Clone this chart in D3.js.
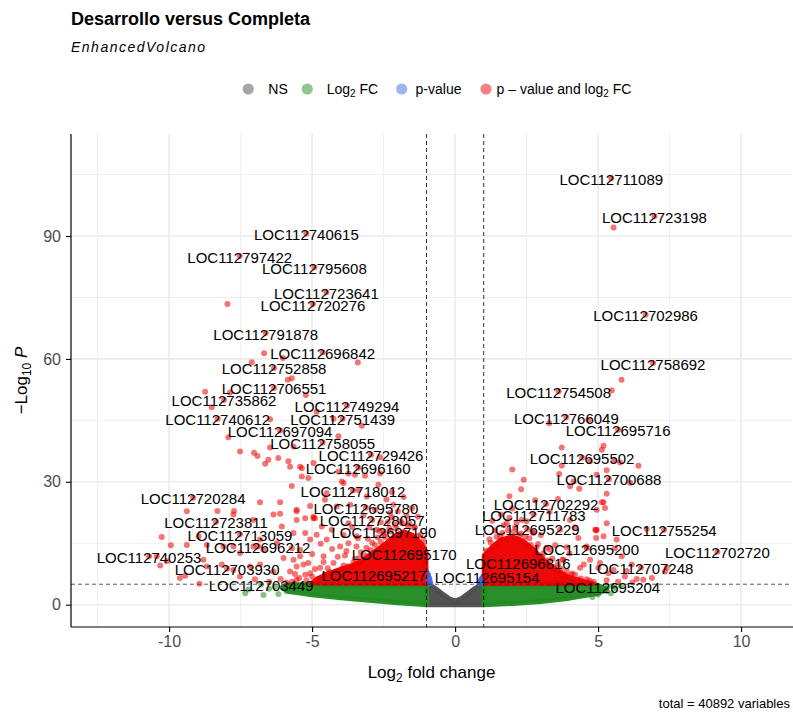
<!DOCTYPE html>
<html>
<head>
<meta charset="utf-8">
<script src="https://cdn.jsdelivr.net/npm/d3@7"></script>
<style>
  html, body { margin: 0; padding: 0; background: #fff; }
  svg { display: block; font-family: "Liberation Sans", Arial, sans-serif; }
</style>
</head>
<body>
<svg id="chart" width="793" height="713"></svg>
<script>
// ---- Volcano plot data: Desarrollo versus Completa ----
const fcCutoff = 1;        // |log2 fold change| threshold
const pCutoff = 5;         // -log10 P threshold

const xMajorTicks = [-10, -5, 0, 5, 10];
const xMinorTicks = [-12.5, -7.5, -2.5, 2.5, 7.5];
const yMajorTicks = [0, 30, 60, 90];
const yMinorTicks = [15, 45, 75, 105];

const legendKeys = ["NS", "Log2 FC", "p-value", "p - value and log2 FC"];

// Labelled genes
const labelGenes = [
  "LOC112711089","LOC112723198","LOC112740615","LOC112797422","LOC112795608","LOC112723641",
  "LOC112720276","LOC112702986","LOC112791878","LOC112696842","LOC112758692","LOC112752858",
  "LOC112706551","LOC112754508","LOC112735862","LOC112749294","LOC112766049","LOC112740612",
  "LOC112751439","LOC112695716","LOC112697094","LOC112758055","LOC112729426","LOC112695502",
  "LOC112696160","LOC112700688","LOC112718012","LOC112720284","LOC112702292","LOC112695780",
  "LOC112711783","LOC112728057","LOC112723811","LOC112695229","LOC112755254","LOC112697190",
  "LOC112713059","LOC112696212","LOC112695200","LOC112702720","LOC112695170","LOC112740253",
  "LOC112696816","LOC112707248","LOC112703930","LOC112695217","LOC112695154","LOC112703449",
  "LOC112695204"
];
const labelLog2FC = [
  5.46, 6.97, -5.20, -7.53, -4.92, -4.50,
  -4.97, 6.66, -6.62, -4.63, 6.92, -6.33,
  -6.33, 3.62, -8.08, -3.78, 3.89, -8.30,
  -3.93, 5.70, -6.12, -4.63, -2.94, 4.44,
  -3.39, 5.38, -3.57, -9.16, 3.18, -3.12,
  2.75, -2.90, -8.36, 2.52, 7.31, -2.49,
  -7.52, -6.89, 4.60, 9.17, -1.78, -10.70,
  2.21, 6.50, -7.97, -2.84, 1.12, -6.78,
  5.34
];
const labelNegLogP = [
  104.1, 94.8, 90.6, 85.1, 82.4, 76.3,
  73.4, 70.8, 66.3, 61.6, 59.0, 57.8,
  52.9, 52.1, 50.0, 48.6, 45.8, 45.4,
  45.4, 42.7, 42.5, 39.6, 36.6, 35.9,
  33.5, 30.7, 27.9, 26.1, 24.6, 23.7,
  22.0, 20.7, 20.2, 18.5, 18.3, 17.9,
  17.2, 14.2, 13.8, 12.95, 12.6, 11.8,
  10.2, 9.1, 8.8, 7.3, 6.9, 5.0,
  4.5
];

// Unlabelled genes away from the dense core
const geneLog2FC = [
  // left, upper part
  -7.96, -6.68, -6.02, -3.40, -7.11, -5.85, -5.71, -8.74, -7.87, -5.22,
  -8.51, -4.84, -6.47, -3.26, -4.25, -7.93, -6.47, -5.65, -4.08, -7.52,
  -7.03, -6.91, -6.18, -6.64, -6.53, -5.83, -5.77, -5.42, -5.36, -5.13,
  -4.95, -4.08, -3.73, -3.15, -2.62, -2.62, -3.90, -5.71, -4.49, -2.21,
  -3.38, -6.82, -6.12, -5.07, -5.54, -9.38, -8.31, -7.73, -6.35, -6.12,
  -4.95, -4.14, -3.67,
  // left, middle part
  -5.36, -5.54, -5.54, -3.96, -3.50, -2.68, -4.55, -3.09, -4.90, -4.66,
  -4.31, -3.73, -4.49, -4.02, -5.07, -5.42, -5.13, -4.60, -5.54, -5.24,
  -4.72, -4.14, -5.65, -5.71, -2.16, -2.27, -2.74, -3.44, -3.73,
  // left, far part
  -10.26, -9.94, -9.38, -8.97, -8.68, -7.75, -7.05, -6.06, -10.43, -10.31,
  -10.08, -9.62, -9.44, -8.94, -8.80, -8.68, -8.16, -7.75, -7.52, -7.17,
  -6.82, -6.35, -6.00, -5.65, -5.42, -5.24, -4.95, -7.75, -7.52, -8.10,
  -7.05, -6.70, -6.23, -6.82, -5.24, -4.84, -5.77, -5.54, -5.07,
  // left, around the core
  -4.8, -4.4, -4.2, -3.9, -3.7, -3.5, -3.3, -3.1, -2.9, -2.7,
  -2.5, -2.3, -2.1, -1.9, -1.6, -1.4, -1.2, -1.1, -2.2, -2.0,
  -1.7, -2.6, -3.0, -3.4, -3.8, -4.1, -4.6, -4.9, -5.3, -5.6,
  -6.1, -6.5, -7.0, -5.9, -3.2, -2.8, -1.5, -1.3, -2.4, -1.8,
  -3.6, -4.3, -5.0, -4.7, -3.9,
  // left, rim of the core
  -1.1, -1.3, -1.45, -1.65, -1.85, -2.05, -2.25, -2.45, -2.6, -2.8,
  -2.95, -3.15, -3.35, -3.55, -3.75, -3.95, -4.15, -4.35, -4.55, -4.75,
  -5.0, -5.2, -5.45, -5.7, -1.25, -1.55, -2.35, -2.65, -3.05, -3.45,
  -3.85, -4.25, -4.45, -1.95, -1.35,
  // right, upper part
  5.54, 5.82, 5.48, 3.29, 4.66, 3.73, 5.19, 5.13, 6.41, 3.73,
  5.30, 5.77, 5.54, 4.72, 3.64, 4.02, 4.34, 6.12, 5.30, 2.31,
  4.14, 4.95, 5.19, 5.24, 4.95, 5.30, 4.93, 4.93,
  // right, middle part
  1.57, 5.13, 4.95, 5.19, 5.65, 4.31, 4.60, 4.72, 4.37, 5.01,
  5.36, 4.20, 3.79, 3.32, 3.79, 2.74, 2.33, 1.81, 1.34, 3.32,
  3.67, 4.02, 4.90, 5.59, 5.83, 6.18, 6.58, 6.88, 6.35, 7.34,
  7.40, 6.70, 5.94, 5.54, 5.07,
  // right, around the core
  1.2, 1.4, 1.7, 1.9, 2.1, 2.3, 2.6, 2.9, 3.1, 3.4,
  3.6, 3.9, 4.1, 4.4, 4.7, 2.0, 1.6, 2.5, 3.0, 3.5,
  4.0, 1.3, 2.8, 1.9, 3.3, 4.5, 5.3, 5.7, 6.0, 6.2,
  3.9, 4.2, 3.6, 2.4, 2.0,
  // right, rim of the core
  1.1, 1.25, 1.45, 1.65, 1.85, 2.05, 2.25, 2.45, 2.65, 2.85,
  3.05, 3.25, 3.45, 3.7, 3.85, 4.05, 4.3, 4.6, 4.85, 1.55,
  2.15, 2.7, 3.2, 3.75,
  // fold change only (below the P threshold)
  -7.34, -6.70, -6.18, -5.89, -6.00, -7.23, -6.50, -5.70, -6.30,
  5.30, 5.60, 5.80, 5.45, 5.00, 4.80, 5.20, 5.55,
  // P only (inside the fold change threshold)
  -0.94, -0.90, -0.96, 0.92, 0.96, 0.88
];
const geneNegLogP = [
  73.4, 61.4, 60.2, 59.1, 59.2, 54.9, 55.3, 52.0, 51.8, 51.2,
  48.2, 47.1, 45.3, 43.7, 45.4, 40.9, 38.4, 38.6, 41.1, 37.4,
  37.1, 36.3, 35.8, 34.4, 35.4, 35.0, 33.7, 33.7, 31.3, 30.9,
  34.6, 32.5, 32.0, 31.5, 32.0, 36.0, 29.7, 29.0, 27.2, 27.5,
  28.0, 25.0, 25.0, 24.1, 22.8, 22.8, 22.9, 22.9, 22.0, 22.2,
  21.5, 24.0, 24.4,
  33.3, 23.2, 20.7, 30.1, 31.7, 29.3, 25.6, 26.4, 21.1, 19.1,
  18.3, 19.9, 15.9, 14.2, 15.9, 11.8, 10.2, 11.8, 9.3, 7.3,
  9.0, 8.1, 17.5, 13.8, 24.4, 22.4, 18.3, 16.7, 15.0,
  16.5, 14.5, 14.6, 16.7, 14.6, 22.0, 20.7, 19.1, 11.8, 9.6,
  10.6, 6.5, 7.1, 5.1, 11.0, 9.3, 9.8, 8.5, 6.9, 9.3,
  9.8, 8.1, 11.4, 11.0, 13.4, 17.5, 21.1, 14.2, 12.6, 14.2,
  14.2, 13.4, 15.0, 15.9, 21.1, 17.1, 8.1, 6.1, 7.7,
  6.2, 7.9, 5.8, 9.6, 6.8, 11.2, 12.8, 13.9, 15.1, 16.4,
  17.2, 18.6, 19.5, 20.4, 19.8, 18.9, 17.1, 15.8, 21.3, 22.8,
  21.7, 20.1, 18.9, 16.2, 13.1, 11.7, 10.4, 8.7, 9.8, 7.5,
  6.3, 5.6, 6.2, 5.4, 21.8, 23.2, 23.6, 21.5, 25.7, 26.3,
  19.0, 13.6, 12.4, 14.9, 17.0,
  14.5, 16.8, 18.9, 19.3, 19.9, 18.6, 17.9, 16.5, 15.3, 14.6,
  13.3, 12.1, 11.4, 10.3, 9.4, 8.8, 8.0, 7.2, 7.4, 6.4,
  6.8, 5.9, 6.5, 5.6, 14.1, 16.2, 20.2, 18.0, 16.1, 14.2,
  12.0, 10.2, 8.9, 16.9, 12.9,
  92.1, 54.9, 52.3, 44.3, 45.1, 38.4, 38.8, 37.8, 33.9, 34.0,
  32.8, 34.7, 35.2, 35.0, 31.9, 28.9, 28.3, 29.8, 27.1, 28.2,
  30.1, 31.7, 25.0, 23.6, 23.2, 19.9, 18.1, 16.3,
  16.7, 25.0, 18.3, 16.7, 15.9, 16.3, 14.2, 11.0, 9.0, 9.0,
  7.7, 7.3, 11.0, 9.3, 6.9, 17.5, 20.7, 19.9, 14.2, 13.4,
  18.3, 20.7, 18.3, 13.8, 11.8, 9.8, 6.1, 6.5, 6.3, 8.1,
  9.0, 18.5, 6.9, 8.5, 10.2,
  16.0, 18.1, 19.4, 21.2, 18.9, 17.4, 16.2, 14.8, 12.6, 11.2,
  9.9, 8.3, 7.6, 6.4, 5.9, 23.5, 22.0, 20.4, 17.0, 14.5,
  12.5, 20.5, 25.5, 26.5, 22.7, 9.8, 6.0, 5.6, 8.2, 5.4,
  14.0, 18.9, 25.8, 30.5, 33.0,
  13.2, 15.1, 16.6, 17.5, 18.2, 17.9, 16.9, 16.6, 14.6, 14.0,
  11.6, 10.8, 9.2, 8.8, 7.1, 7.3, 6.1, 6.2, 5.6, 14.0,
  20.0, 17.8, 13.9, 11.0,
  2.8, 2.4, 2.6, 3.3, 4.1, 3.7, 3.9, 4.5, 4.4,
  3.3, 4.0, 4.5, 2.8, 2.5, 1.9, 3.8, 4.6,
  7.3, 6.4, 5.8, 6.0, 5.5, 5.4
];

// Outlines of the saturated point clouds, as (log2FC, -log10 P) vertices
const nsCloudFC   = [-1, -1, -0.8, -0.6, -0.4, -0.2, 0, 0.2, 0.4, 0.6, 0.8, 1, 1];
const nsCloudP    = [0, 4.9, 4.4, 3.5, 2.4, 1.4, 0.9, 1.4, 2.4, 3.5, 4.4, 4.9, 0];
const fcLeftFC    = [-1, -1, -5.8, -6.05, -5.8, -5.0, -4.0, -3.0, -2.0, -1.2];
const fcLeftP     = [0, 4.9, 4.9, 4.2, 3.2, 2.4, 1.7, 1.1, 0.5, 0.1];
const fcRightFC   = [1, 1, 4.9, 5.3, 5.0, 4.0, 3.0, 2.0, 1.2];
const fcRightP    = [0, 4.9, 4.9, 3.8, 2.8, 1.6, 0.8, 0.3, 0.05];
const pLeftFC     = [-1, -1, -0.93, -0.85];
const pLeftP      = [5.2, 8.2, 7.0, 5.2];
const pRightFC    = [1, 1, 0.92, 0.84];
const pRightP     = [5.2, 7.2, 6.4, 5.2];
const bothLeftFC  = [-1.02, -1.02, -1.2, -1.5, -1.8, -2.1, -2.4, -2.7, -3.0, -3.3, -3.6, -4.0, -4.5, -4.8, -5.0];
const bothLeftP   = [5.2, 13.0, 15.0, 17.0, 17.8, 16.8, 15.0, 13.5, 12.0, 10.5, 9.5, 8.6, 7.4, 6.3, 5.3];
const bothRightFC = [1.02, 1.02, 1.3, 1.6, 2.0, 2.4, 2.8, 3.2, 3.6, 4.0, 4.5, 4.8];
const bothRightP  = [5.2, 12.0, 14.0, 15.8, 16.6, 15.4, 13.0, 10.2, 8.2, 6.6, 5.6, 5.2];

const totalVariables = 40892;

// ---- Layout ----
const svg = d3.select("#chart");
const panel = { left: 71, right: 792, top: 134, bottom: 627 };

const x = d3.scaleLinear().domain([-13.43, 11.78]).range([panel.left, panel.right]);
const y = d3.scaleLinear().domain([-5.44, 114.9]).range([panel.bottom, panel.top]);

const colours = {
  ns: "#4d4d4d",
  fc: "#228b22",
  p: "#4169e1",
  both: "#ee0000"
};
const classOf = (fc, p) => {
  const bigFC = Math.abs(fc) > fcCutoff, sigP = p > pCutoff;
  if (bigFC && sigP) return "both";
  if (bigFC) return "fc";
  if (sigP) return "p";
  return "ns";
};

// ---- Titles ----
svg.append("text").attr("x", 71).attr("y", 25)
  .attr("font-size", 18).attr("font-weight", "bold").attr("fill", "#000")
  .text("Desarrollo versus Completa");
svg.append("text").attr("x", 71).attr("y", 52)
  .attr("font-size", 14).attr("font-style", "italic").attr("letter-spacing", 1.5)
  .attr("fill", "#000").text("EnhancedVolcano");

// ---- Legend ----
const legend = svg.append("g").attr("font-size", 14).attr("fill", "#000");
const legendY = 89;
const legendItems = [
  { key: legendKeys[0], cls: "ns",   cx: 248.3, tx: 268.3, anchor: "start" },
  { key: legendKeys[1], cls: "fc",   cx: 307.3, tx: 326.7, anchor: "start" },
  { key: legendKeys[2], cls: "p",    cx: 401.7, tx: 438.5, anchor: "middle" },
  { key: legendKeys[3], cls: "both", cx: 486.0, tx: 564.0, anchor: "middle" }
];
legendItems.forEach(it => {
  legend.append("circle").attr("cx", it.cx).attr("cy", legendY).attr("r", 5.6)
    .attr("fill", colours[it.cls]).attr("fill-opacity", 0.5);
  const t = legend.append("text").attr("x", it.tx).attr("y", legendY)
    .attr("dominant-baseline", "central").attr("text-anchor", it.anchor);
  if (it.cls === "fc") {
    t.append("tspan").text("Log");
    t.append("tspan").attr("font-size", 10).attr("dy", 4).text("2");
    t.append("tspan").attr("dy", -4).text(" FC");
  } else if (it.cls === "both") {
    t.append("tspan").text("p \u2013 value and log");
    t.append("tspan").attr("font-size", 10).attr("dy", 4).text("2");
    t.append("tspan").attr("dy", -4).text(" FC");
  } else {
    t.text(it.key);
  }
});

// ---- Panel grid ----
const grid = svg.append("g");
xMinorTicks.forEach(v => grid.append("line")
  .attr("x1", x(v)).attr("x2", x(v)).attr("y1", panel.top).attr("y2", panel.bottom)
  .attr("stroke", "#ebebeb").attr("stroke-width", 0.8));
yMinorTicks.forEach(v => grid.append("line")
  .attr("x1", panel.left).attr("x2", panel.right).attr("y1", y(v)).attr("y2", y(v))
  .attr("stroke", "#ebebeb").attr("stroke-width", 0.8));
xMajorTicks.forEach(v => grid.append("line")
  .attr("x1", x(v)).attr("x2", x(v)).attr("y1", panel.top).attr("y2", panel.bottom)
  .attr("stroke", "#ebebeb").attr("stroke-width", 1.6));
yMajorTicks.forEach(v => grid.append("line")
  .attr("x1", panel.left).attr("x2", panel.right).attr("y1", y(v)).attr("y2", y(v))
  .attr("stroke", "#ebebeb").attr("stroke-width", 1.6));

// ---- Points ----
const plot = svg.append("g");
const cloud = (fcs, ps, cls) => {
  const pts = fcs.map((v, i) => [x(v), y(ps[i])]);
  plot.append("path")
    .attr("d", d3.line().curve(d3.curveLinearClosed)(pts))
    .attr("fill", colours[cls]).attr("stroke", colours[cls])
    .attr("stroke-width", 5).attr("stroke-linejoin", "round")
    .attr("fill-opacity", 0.97).attr("stroke-opacity", 0.97);
};
cloud(nsCloudFC, nsCloudP, "ns");
cloud(fcLeftFC, fcLeftP, "fc");
cloud(fcRightFC, fcRightP, "fc");
cloud(pLeftFC, pLeftP, "p");
cloud(pRightFC, pRightP, "p");
cloud(bothLeftFC, bothLeftP, "both");
cloud(bothRightFC, bothRightP, "both");

const genes = geneLog2FC.map((v, i) => ({ fc: v, p: geneNegLogP[i] }))
  .concat(labelLog2FC.map((v, i) => ({ fc: v, p: labelNegLogP[i] })));
plot.selectAll("circle.gene").data(genes).join("circle")
  .attr("class", "gene")
  .attr("cx", d => x(d.fc)).attr("cy", d => y(d.p)).attr("r", 3)
  .attr("fill", d => colours[classOf(d.fc, d.p)]).attr("fill-opacity", 0.55);

// ---- Threshold lines ----
[-fcCutoff, fcCutoff].forEach(v => svg.append("line")
  .attr("x1", x(v)).attr("x2", x(v)).attr("y1", panel.top).attr("y2", panel.bottom)
  .attr("stroke", "#000").attr("stroke-width", 0.8).attr("stroke-dasharray", "4,3"));
svg.append("line")
  .attr("x1", panel.left).attr("x2", panel.right).attr("y1", y(pCutoff)).attr("y2", y(pCutoff))
  .attr("stroke", "#333").attr("stroke-width", 0.8).attr("stroke-dasharray", "4,3");

// ---- Gene labels ----
svg.append("g").attr("font-size", 15).attr("fill", "#000").attr("text-anchor", "middle")
  .selectAll("text").data(labelGenes).join("text")
  .attr("x", (d, i) => x(labelLog2FC[i]))
  .attr("y", (d, i) => y(labelNegLogP[i]) + 1)
  .attr("dominant-baseline", "central")
  .text(d => d);

// ---- Axes ----
const xAxis = svg.append("g").attr("transform", `translate(0,${panel.bottom})`)
  .call(d3.axisBottom(x).tickValues(xMajorTicks).tickSize(5).tickPadding(4)
    .tickFormat(d => d < 0 ? "-" + Math.abs(d) : String(d)));
const yAxis = svg.append("g").attr("transform", `translate(${panel.left},0)`)
  .call(d3.axisLeft(y).tickValues(yMajorTicks).tickSize(5).tickPadding(5));
[xAxis, yAxis].forEach(a => {
  a.select(".domain").remove();
  a.selectAll(".tick line").attr("stroke", "#000").attr("stroke-width", 1.1);
  a.selectAll(".tick text").attr("fill", "#4d4d4d").attr("font-size", 16)
    .attr("font-family", "Liberation Sans, Arial, sans-serif");
});
svg.append("line").attr("x1", panel.left).attr("x2", 800)
  .attr("y1", panel.bottom).attr("y2", panel.bottom).attr("stroke", "#000").attr("stroke-width", 1.2);
svg.append("line").attr("x1", panel.left).attr("x2", panel.left)
  .attr("y1", panel.top).attr("y2", panel.bottom).attr("stroke", "#000").attr("stroke-width", 1.2);

// Axis titles
const xt = svg.append("text").attr("x", (panel.left + panel.right) / 2).attr("y", 678)
  .attr("text-anchor", "middle").attr("font-size", 17).attr("fill", "#000");
xt.append("tspan").text("Log");
xt.append("tspan").attr("font-size", 12).attr("dy", 4).text("2");
xt.append("tspan").attr("dy", -4).text(" fold change");

const yt = svg.append("text")
  .attr("transform", `translate(27,${(panel.top + panel.bottom) / 2}) rotate(-90)`)
  .attr("text-anchor", "middle").attr("font-size", 17).attr("fill", "#000");
yt.append("tspan").text("\u2212Log");
yt.append("tspan").attr("font-size", 12).attr("dy", 4).text("10");
yt.append("tspan").attr("dy", -4).attr("font-style", "italic").text(" P");

// Caption
svg.append("text").attr("x", 790).attr("y", 708).attr("text-anchor", "end")
  .attr("font-size", 13).attr("fill", "#000")
  .text(`total = ${totalVariables} variables`);
</script>
</body>
</html>
